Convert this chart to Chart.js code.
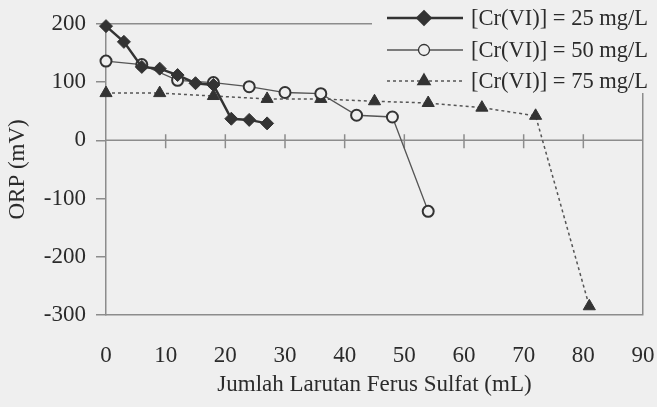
<!DOCTYPE html>
<html>
<head>
<meta charset="utf-8">
<script src="https://cdn.jsdelivr.net/npm/chart.js@4"></script>
<style>
  html, body { margin: 0; padding: 0; background: #efefef; }
  #wrap { width: 657px; height: 407px; }
</style>
</head>
<body>
<div id="wrap"><canvas id="orpChart" width="657" height="407"></canvas></div>
<script>
// Volume ferrous sulfate (mL) and ORP (mV) per Cr(VI) concentration
const volume25 = [0, 3, 6, 9, 12, 15, 18, 21, 24, 27];
const orp25 = [196, 169, 126, 123, 112, 98, 95, 37, 35, 29];

const volume50 = [0, 6, 12, 18, 24, 30, 36, 42, 48, 54];
const orp50 = [136, 130, 103, 99, 92, 82, 80, 43, 40, -122];

const volume75 = [0, 9, 18, 27, 36, 45, 54, 63, 72, 81];
const orp75 = [81, 81, 76, 71, 71, 67, 64, 56, 42, -285];

const seriesLabels = ["[Cr(VI)] = 25 mg/L", "[Cr(VI)] = 50 mg/L", "[Cr(VI)] = 75 mg/L"];
const xTitle = "Jumlah Larutan Ferus Sulfat (mL)";
const yTitle = "ORP (mV)";

const bg = "#efefef";
const ink = "#2b2b2b";
const frame = "#8c8c8c";
const serif = "'Liberation Serif', 'Times New Roman', serif";

function toPoints(xs, ys) {
  return xs.map((x, i) => ({ x: x, y: ys[i] }));
}

// zero line with tick marks crossing it
const zeroAxis = {
  id: "zeroAxis",
  beforeDatasetsDraw(chart) {
    const { ctx, chartArea, scales } = chart;
    const y0 = scales.y.getPixelForValue(0);
    ctx.save();
    ctx.strokeStyle = frame;
    ctx.lineWidth = 1.5;
    ctx.beginPath();
    ctx.moveTo(chartArea.left, y0);
    ctx.lineTo(chartArea.right, y0);
    scales.x.ticks.forEach(t => {
      if (t.value <= 0 || t.value >= 90) return;
      const px = scales.x.getPixelForValue(t.value);
      ctx.moveTo(px, y0 - 6);
      ctx.lineTo(px, y0 + 8);
    });
    ctx.stroke();
    ctx.restore();
  }
};

// legend drawn over the top right corner of the plot
const cornerLegend = {
  id: "cornerLegend",
  beforeDatasetsDraw(chart) {
    const { ctx, chartArea } = chart;
    ctx.save();
    ctx.fillStyle = bg;
    ctx.fillRect(chartArea.right - 271, 0, chart.width, 93);
    ctx.restore();
  },
  afterDatasetsDraw(chart) {
    const { ctx, chartArea } = chart;
    const rows = [18, 50, 81];
    const x1 = chartArea.right - 256, x2 = chartArea.right - 180, xm = chartArea.right - 219;
    ctx.save();
    chart.data.datasets.forEach((ds, i) => {
      const y = rows[i];
      ctx.strokeStyle = ds.borderColor;
      ctx.lineWidth = ds.borderWidth;
      ctx.setLineDash(ds.borderDash || []);
      ctx.beginPath();
      ctx.moveTo(x1, y);
      ctx.lineTo(x2, y);
      ctx.stroke();
      ctx.setLineDash([]);
      ctx.fillStyle = ds.pointBackgroundColor;
      ctx.strokeStyle = ds.pointBorderColor;
      Chart.helpers.drawPoint(ctx, {
        pointStyle: ds.pointStyle,
        radius: ds.pointRadius,
        borderWidth: ds.pointBorderWidth,
        rotation: 0
      }, xm, y);
      ctx.fillStyle = ink;
      ctx.font = "22.5px " + serif;
      ctx.textBaseline = "middle";
      ctx.textAlign = "left";
      ctx.fillText(ds.label, chartArea.right - 172, y + 1);
    });
    ctx.restore();
  }
};

const ctx = document.getElementById("orpChart").getContext("2d");
new Chart(ctx, {
  type: "line",
  data: {
    datasets: [
      {
        label: seriesLabels[0],
        data: toPoints(volume25, orp25),
        borderColor: "#333333",
        borderWidth: 2.5,
        pointStyle: "rectRot",
        pointRadius: 6.5,
        pointBackgroundColor: "#333333",
        pointBorderColor: "#333333",
        pointBorderWidth: 1,
        tension: 0,
        clip: false
      },
      {
        label: seriesLabels[1],
        data: toPoints(volume50, orp50),
        borderColor: "#555555",
        borderWidth: 1.3,
        pointStyle: "circle",
        pointRadius: 5.5,
        pointBackgroundColor: bg,
        pointBorderColor: "#333333",
        pointBorderWidth: 2,
        tension: 0,
        clip: false
      },
      {
        label: seriesLabels[2],
        data: toPoints(volume75, orp75),
        borderColor: "#555555",
        borderWidth: 1.5,
        borderDash: [3, 3],
        pointStyle: "triangle",
        pointRadius: 7,
        pointBackgroundColor: "#333333",
        pointBorderColor: "#333333",
        pointBorderWidth: 1,
        tension: 0,
        clip: false
      }
    ]
  },
  options: {
    responsive: false,
    animation: false,
    layout: { padding: { top: 21, right: 14, left: 0, bottom: 0 } },
    scales: {
      x: {
        type: "linear",
        min: 0,
        max: 90,
        ticks: {
          stepSize: 10,
          padding: 27,
          color: ink,
          font: { family: serif, size: 23 }
        },
        grid: {
          drawTicks: false,
          color: c => (c.tick && c.tick.value === 90 ? frame : "transparent"),
          lineWidth: 1.5
        },
        border: { color: frame, width: 1.5 },
        title: {
          display: true,
          text: xTitle,
          color: ink,
          font: { family: serif, size: 23 },
          padding: { top: 0, bottom: 8 }
        },
        afterFit(scale) {
          scale.height = 92;
          scale.paddingLeft = 0;
          scale.paddingRight = 0;
        }
      },
      y: {
        min: -300,
        max: 200,
        ticks: {
          stepSize: 100,
          padding: 10,
          color: ink,
          font: { family: serif, size: 23 }
        },
        grid: {
          drawTicks: true,
          tickLength: 10,
          tickColor: frame,
          color: c => (c.tick && c.tick.value === 200 ? frame : "transparent"),
          lineWidth: 1.5
        },
        border: { color: frame, width: 1.5 },
        title: {
          display: true,
          text: yTitle,
          color: ink,
          font: { family: serif, size: 23 },
          padding: { top: 4, bottom: 0 }
        },
        afterFit(scale) { scale.width = 106; }
      }
    },
    plugins: {
      legend: { display: false },
      tooltip: { enabled: false }
    }
  },
  plugins: [zeroAxis, cornerLegend]
});
</script>
</body>
</html>
